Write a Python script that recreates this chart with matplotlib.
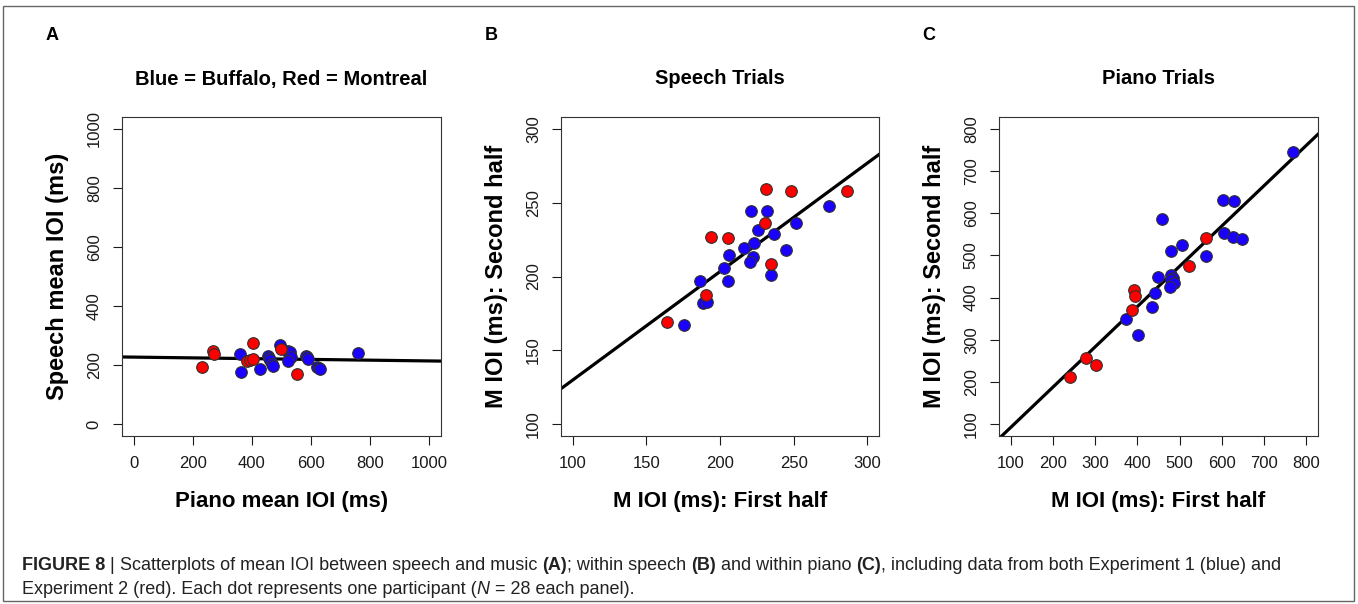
import matplotlib
matplotlib.use("Agg")
import matplotlib.pyplot as plt
import numpy as np

plt.rcParams['font.family'] = ['Liberation Sans', 'DejaVu Sans']

# Panel A: piano mean IOI (x) vs speech mean IOI (y)
a_blue_x = [359, 364, 428, 453, 456, 460, 467, 470, 495, 521, 524, 528, 532, 522, 583, 588, 591, 620, 626, 632, 760]
a_blue_y = [237, 175, 186, 231, 225, 218, 203, 196, 267, 248, 237, 244, 229, 213, 231, 226, 222, 194, 190, 188, 240]
a_red_x = [230, 269, 272, 405, 382, 394, 405, 498, 554]
a_red_y = [192, 249, 236, 274, 214, 218, 220, 254, 169]

# Panel B: speech trials, first half vs second half
b_blue_x = [274.0, 220.9, 231.7, 251.9, 226.1, 236.9, 223.1, 216.6, 244.8, 206.2,
            222.7, 220.2, 202.8, 234.9, 186.3, 205.3, 188.5, 191.1, 175.7]
b_blue_y = [247.5, 244.3, 244.3, 236.0, 231.7, 228.8, 222.9, 219.5, 217.9, 214.6,
            213.4, 209.6, 206.0, 200.8, 197.2, 197.2, 181.9, 182.9, 167.2]
b_red_x = [231.5, 248.5, 286.2, 230.6, 194.2, 205.1, 234.6, 190.8, 163.7]
b_red_y = [259.2, 257.9, 257.9, 236.0, 227.0, 226.3, 208.3, 187.5, 169.2]

# Panel C: piano trials, first half vs second half
c_blue_x = [768.5, 602.4, 629.9, 458.3, 606.2, 626.1, 647.5, 505.8, 479.7, 562.7,
            449.5, 479.7, 484.5, 479.7, 486.1, 478.0, 441.7, 434.6, 373.6, 401.4]
c_blue_y = [745.0, 631.3, 628.9, 586.3, 552.4, 542.9, 539.6, 523.9, 510.4, 499.3,
            449.5, 453.6, 446.4, 441.7, 433.9, 424.4, 410.2, 378.4, 349.3, 310.7]
c_red_x = [562.7, 521.7, 392.6, 394.3, 386.4, 278.0, 302.4, 240.7]
c_red_y = [541.9, 474.2, 418.0, 404.5, 370.6, 257.6, 239.6, 212.6]

a_ticks = [0, 200, 400, 600, 800, 1000]
b_ticks = [100, 150, 200, 250, 300]
c_ticks = [100, 200, 300, 400, 500, 600, 700, 800]

W, H = 1358, 604
fig = plt.figure(figsize=(W / 100, H / 100), dpi=100)


def px_axes(left, top, right, bottom):
    return fig.add_axes([left / W, 1 - bottom / H, (right - left) / W, (bottom - top) / H])


def panel(ax, bx, by, rx, ry, lim, xticks, yticks, title, xlabel, ylabel, letter):
    allx = np.array(bx + rx, dtype=float)
    ally = np.array(by + ry, dtype=float)
    k, b = np.polyfit(allx, ally, 1)
    ax.set_xlim(lim)
    ax.set_ylim(lim)
    xx = np.array(lim)
    ax.plot(xx, k * xx + b, color='black', lw=2.3, zorder=2)
    ax.scatter(bx, by, s=70, c='#1a00ff', edgecolors='#303030', linewidths=0.8, zorder=3)
    ax.scatter(rx, ry, s=70, c='#ff0000', edgecolors='#303030', linewidths=0.8, zorder=3)
    ax.set_xticks(xticks)
    ax.set_yticks(yticks)
    ax.tick_params(direction='out', length=6.5, width=0.8, labelsize=12, pad=8, colors='#1a1a1a')
    plt.setp(ax.get_yticklabels(), rotation=90, va='center')
    for s in ax.spines.values():
        s.set_linewidth(0.8)
        s.set_color('#333333')
    ax.text(0.5, 1 + 38 / 319, title, transform=ax.transAxes, ha='center', va='center',
            fontsize=14.5, fontweight='bold')
    ax.set_xlabel(xlabel, fontsize=16, fontweight='bold', labelpad=14)
    ax.set_ylabel(ylabel, fontsize=17, fontweight='bold', labelpad=13)
    ax.text(-0.22, 1 + 82 / 319, letter, transform=ax.transAxes, ha='center', va='center',
            fontsize=13, fontweight='bold')


axA = px_axes(122, 117, 441, 436)
panel(axA, a_blue_x, a_blue_y, a_red_x, a_red_y, (-40, 1040), a_ticks, a_ticks,
      'Blue = Buffalo, Red = Montreal', 'Piano mean IOI (ms)', 'Speech mean IOI (ms)', 'A')
axB = px_axes(561, 117, 879, 436)
panel(axB, b_blue_x, b_blue_y, b_red_x, b_red_y, (92, 308), b_ticks, b_ticks,
      'Speech Trials', 'M IOI (ms): First half', 'M IOI (ms): Second half', 'B')
axC = px_axes(999, 117, 1318, 436)
panel(axC, c_blue_x, c_blue_y, c_red_x, c_red_y, (72, 828), c_ticks, c_ticks,
      'Piano Trials', 'M IOI (ms): First half', 'M IOI (ms): Second half', 'C')

# border around the figure
fig.patches.append(plt.Rectangle((3 / W, 3 / H), 1 - 7 / W, 1 - 9 / H, transform=fig.transFigure,
                                 fill=False, edgecolor='#666666', lw=1.0))

# caption with mixed weights
cap_font = ['Liberation Sans Narrow', 'Liberation Sans', 'DejaVu Sans']
line1 = [('FIGURE 8', 'bold', 'normal'), (' | ', 'normal', 'normal'),
         ('Scatterplots of mean IOI between speech and music ', 'normal', 'normal'),
         ('(A)', 'bold', 'normal'), ('; within speech ', 'normal', 'normal'),
         ('(B)', 'bold', 'normal'), (' and within piano ', 'normal', 'normal'),
         ('(C)', 'bold', 'normal'),
         (', including data from both Experiment 1 (blue) and', 'normal', 'normal')]
line2 = [('Experiment 2 (red). Each dot represents one participant (', 'normal', 'normal'),
         ('N', 'normal', 'italic'), (' = 28 each panel).', 'normal', 'normal')]

fig.canvas.draw()
renderer = fig.canvas.get_renderer()


def caption_line(runs, x0, y):
    x = x0
    for txt, wt, st in runs:
        t = fig.text(x / W, 1 - y / H, txt, fontsize=13, fontweight=wt, fontstyle=st,
                     family=cap_font, ha='left', va='center', color='#222222')
        bb = t.get_window_extent(renderer=renderer)
        x += bb.width


caption_line(line1, 22, 565)
caption_line(line2, 22, 589)

fig.savefig('out.png', dpi=100)
